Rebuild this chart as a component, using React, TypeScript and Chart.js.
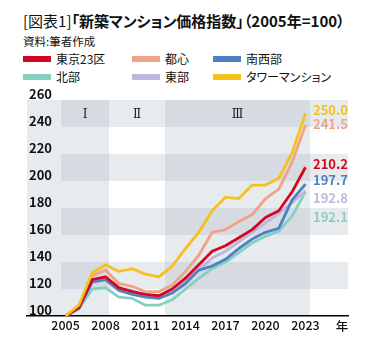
import React, { useEffect, useRef } from "react";
import { Chart, registerables } from "chart.js";

Chart.register(...registerables);

// ---- data ----
const years = [2005, 2006, 2007, 2008, 2009, 2010, 2011, 2012, 2013, 2014, 2015, 2016, 2017, 2018, 2019, 2020, 2021, 2022, 2023];
const xTickYears = [2005, 2008, 2011, 2014, 2017, 2020, 2023];
const yTicks = [100, 120, 140, 160, 180, 200, 220, 240, 260];

const tokyo23 = [100, 106, 127, 129, 121, 118, 116, 115, 120, 128, 138, 148, 152, 158, 164, 173, 178, 192, 210.2];
const toshin = [100, 107, 130, 134, 124, 122, 118, 118, 123, 133, 145, 162, 164, 170, 175, 187, 194, 214, 241.5];
const nanseibu = [100, 106, 125, 127, 119, 116, 114, 113, 117, 124, 134, 137, 142, 150, 157, 162, 165, 186, 197.7];
const hokubu = [100, 105, 120, 121, 114, 113, 108, 108, 112, 120, 128, 135, 140, 147, 154, 159, 163, 174, 192.1];
const tobu = [100, 106, 126, 127, 120, 119, 115, 114, 118, 126, 134, 143, 148, 155, 162, 169, 176, 184, 192.8];
const tower = [100, 108, 132, 138, 133, 135, 131, 129, 137, 150, 162, 178, 188, 187, 197, 197, 202, 221, 250.0];

const seriesNames = ["東京23区", "都心", "南西部", "北部", "東部", "タワーマンション"];
const seriesData = [tokyo23, toshin, nanseibu, hokubu, tobu, tower];
const seriesColors = ["#d5061f", "#f0a386", "#4f80c3", "#86d0c1", "#bcb7dc", "#f6c11c"];
const seriesOrder = [1, 2, 3, 5, 4, 0];
// where each end-value label is placed (in index units)
const endLabelAnchors = [212.6, 241.9, 200.4, 173.0, 187.7, 252.4];

const periodNames = ["Ⅰ", "Ⅱ", "Ⅲ"];
const periodBounds = [2004.63, 2008.26, 2012.48, 2023.37];
const xMin = 2002.11;
const xMax = 2026.19;

const JP = '"Noto Sans CJK JP", "Noto Sans", sans-serif';

const bgPlugin = {
  id: "bgBands",
  beforeDraw(chart: any) {
    const { ctx, chartArea: a, scales } = chart;
    const x = scales.x;
    const y = scales.y;
    const xs = [a.left, ...periodBounds.map((v) => Math.round(x.getPixelForValue(v))), a.right];
    ctx.save();
    for (let c = 0; c < xs.length - 1; c++) {
      const x0 = xs[c];
      const x1 = xs[c + 1];
      for (let r = 0; r < yTicks.length - 1; r++) {
        const dark = r % 2 === 1;
        let color: string;
        if (c === 0) color = "#e8ebee";
        else if (c === 1 || c === 3) color = dark ? "#d5dbe1" : "#e8ebee";
        else color = dark ? "#e8ebee" : "#ffffff";
        const y0 = Math.round(y.getPixelForValue(yTicks[r + 1]));
        const y1 = Math.round(y.getPixelForValue(yTicks[r]));
        ctx.fillStyle = color;
        ctx.fillRect(x0, y0, x1 - x0, y1 - y0);
      }
    }
    // period names in the top band
    const topMid = (y.getPixelForValue(yTicks[yTicks.length - 1]) + y.getPixelForValue(yTicks[yTicks.length - 2])) / 2;
    ctx.fillStyle = "#222";
    ctx.font = '12px "DejaVu Serif", "Liberation Serif", serif';
    ctx.textAlign = "center";
    ctx.textBaseline = "middle";
    for (let i = 0; i < periodNames.length; i++) {
      ctx.fillText(periodNames[i], (xs[i + 1] + xs[i + 2]) / 2, topMid + 1);
    }
    ctx.restore();
  },
  afterDraw(chart: any) {
    const { ctx, chartArea: a, scales } = chart;
    const y = scales.y;
    ctx.save();
    ctx.font = `bold 13px ${JP}`;
    ctx.textAlign = "left";
    ctx.textBaseline = "middle";
    for (let i = 0; i < seriesData.length; i++) {
      const d = seriesData[i];
      ctx.fillStyle = seriesColors[i];
      ctx.fillText(d[d.length - 1].toFixed(1), a.right - 35, y.getPixelForValue(endLabelAnchors[i]));
    }
    ctx.fillStyle = "#111";
    ctx.font = `500 12.5px ${JP}`;
    ctx.textAlign = "center";
    ctx.fillText("年", a.right - 6, a.bottom + 10);
    ctx.restore();
  },
};

export default function App() {
  const ref = useRef<HTMLCanvasElement>(null);

  useEffect(() => {
    const canvas = ref.current;
    if (!canvas) return;
    const chart = new Chart(canvas, {
      type: "line",
      data: {
        datasets: seriesNames.map((name, i) => ({
          label: name,
          data: years.map((yr, j) => ({ x: yr, y: seriesData[i][j] })),
          borderColor: seriesColors[i],
          backgroundColor: seriesColors[i],
          borderWidth: 2.8,
          pointRadius: 0,
          tension: 0,
          borderJoinStyle: "round" as const,
          order: seriesOrder[i],
        })),
      },
      options: {
        responsive: false,
        animation: false,
        devicePixelRatio: 1,
        layout: { padding: { left: 23, right: 25, top: 100, bottom: 15 } },
        plugins: {
          legend: { display: false },
          tooltip: { enabled: false },
          title: { display: false },
        },
        scales: {
          x: {
            type: "linear",
            min: xMin,
            max: xMax,
            afterBuildTicks: (s: any) => {
              s.ticks = xTickYears.map((v) => ({ value: v }));
            },
            grid: { display: false, drawTicks: false },
            border: { display: true, color: "#000", width: 1.5 },
            ticks: {
              autoSkip: false,
              maxRotation: 0,
              padding: 2,
              color: "#111",
              font: { family: JP, size: 12.5, weight: 500 },
              callback: (v: any) => String(v),
            },
          },
          y: {
            type: "linear",
            min: 100,
            max: 260,
            afterBuildTicks: (s: any) => {
              s.ticks = yTicks.map((v) => ({ value: v }));
            },
            grid: { display: false, drawTicks: false },
            border: { display: false },
            ticks: {
              mirror: true,
              padding: 2,
              labelOffset: -6,
              color: "#111",
              font: { family: JP, size: 13, weight: "bold" },
            },
          },
        },
      },
      plugins: [bgPlugin],
    });
    return () => chart.destroy();
  }, []);

  const legendCols = [23, 132, 213];
  const legendRows = [56, 74];

  return (
    <div style={{ position: "fixed", left: 0, top: 0, width: 373, height: 350, background: "#fff", fontFamily: JP, color: "#111" }}>
      <div
        style={{
          position: "absolute",
          left: 23,
          top: 13,
          fontSize: 15,
          lineHeight: "16px",
          whiteSpace: "nowrap",
          fontFeatureSettings: '"palt"',
        }}
      >
        <span style={{ fontWeight: 400 }}>[図表1]</span>
        <span style={{ fontWeight: 700 }}>「新築マンション価格指数」（2005年=100）</span>
      </div>
      <div style={{ position: "absolute", left: 23, top: 35, fontSize: 11.5, lineHeight: "12px", whiteSpace: "nowrap", fontFeatureSettings: '"palt"' }}>
        資料:筆者作成
      </div>
      {seriesNames.map((name, i) => {
        const col = [0, 1, 2, 0, 1, 2][i];
        const row = i < 3 ? 0 : 1;
        const left = legendCols[col];
        const top = legendRows[row];
        return (
          <div key={name}>
            <div style={{ position: "absolute", left, top, width: 28, height: 6, background: seriesColors[i] }} />
            <div
              style={{
                position: "absolute",
                left: left + 33,
                top: top - 3,
                fontSize: 12,
                lineHeight: "12px",
                whiteSpace: "nowrap",
                fontFeatureSettings: '"palt"',
              }}
            >
              {name}
            </div>
          </div>
        );
      })}
      <canvas ref={ref} width={373} height={350} style={{ position: "absolute", left: 0, top: 0, width: 373, height: 350 }} />
    </div>
  );
}
